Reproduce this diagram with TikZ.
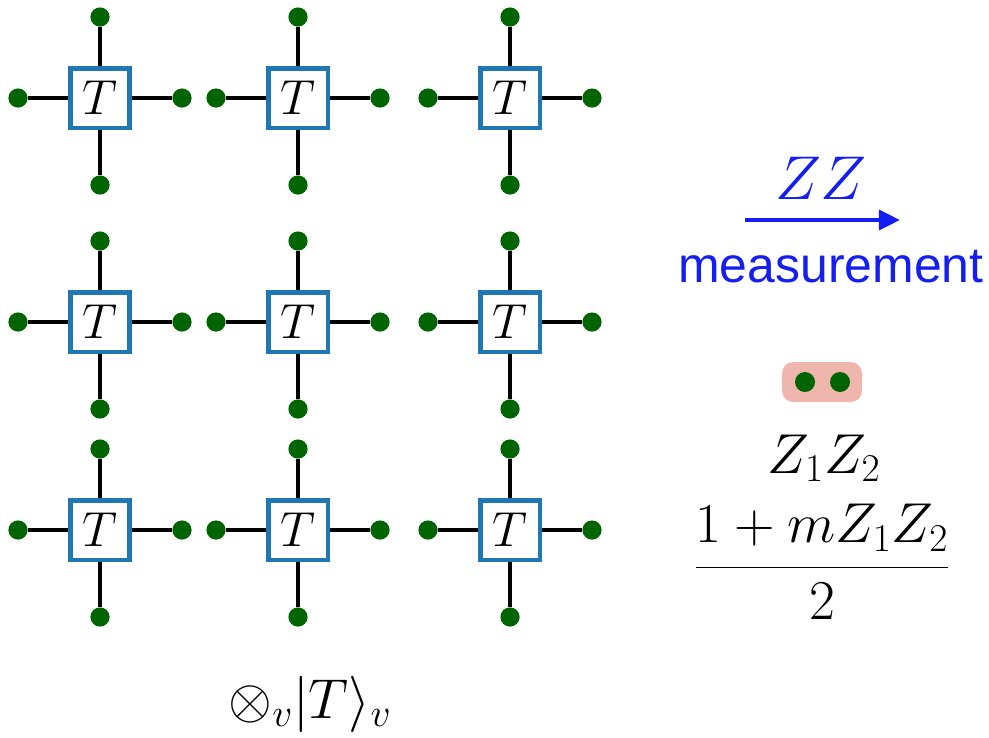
\RequirePackage{fix-cm}
\documentclass[tikz,border=0pt]{standalone}
\usepackage{fontspec}
\setsansfont{Liberation Sans}
\usetikzlibrary{arrows.meta}
\definecolor{boxblue}{RGB}{31,119,180}
\definecolor{dotgreen}{RGB}{0,100,0}
\definecolor{pairpink}{RGB}{238,182,172}
\definecolor{measblue}{RGB}{20,30,240}
\tikzset{
  tbox/.style={draw=boxblue, line width=3pt, fill=white, minimum size=1.48cm, inner sep=0pt,
    font=\fontsize{35}{40}\selectfont},
  leg/.style={circle, fill=dotgreen, minimum size=0.48cm, inner sep=0pt},
  bond/.style={line width=2.8pt, black},
  bigmath/.style={font=\fontsize{40}{48}\selectfont}
}
\begin{document}
\begin{tikzpicture}[x=0.025cm, y=-0.025cm]
  \useasboundingbox (0,0) rectangle (989,738);

  % tensor grid
  \foreach \i/\x in {1/100,2/298,3/510} {
    \foreach \j/\y in {1/98,2/322,3/530} {
      \node[leg] (u\i\j) at (\x,\y-81) {};
      \node[leg] (d\i\j) at (\x,\y+87) {};
      \node[leg] (l\i\j) at (\x-82,\y) {};
      \node[leg] (r\i\j) at (\x+82,\y) {};
      \draw[bond] (u\i\j) -- (d\i\j);
      \draw[bond] (l\i\j) -- (r\i\j);
      \node[tbox] (T\i\j) at (\x,\y) {$T$};
    }
  }

  % product state label
  \node[bigmath] (prod) at (310,704) {$\otimes_v |T\rangle_v$};

  % measurement arrow
  \node[font=\fontsize{44}{50}\selectfont, text=measblue] (zz) at (821,178) {$ZZ$};
  \coordinate (a0) at (745,220);
  \coordinate (a1) at (900,220);
  \draw[measblue, line width=3pt, -{Triangle[length=15pt, width=14pt]}] (a0) -- (a1);
  \node[font=\sffamily\fontsize{35.5}{40}\selectfont, text=measblue] (meas) at (831,267) {measurement};

  % measured pair
  \node[fill=pairpink, rounded corners=8pt, minimum width=2cm, minimum height=1cm] (pair) at (822,382) {};
  \node[leg, minimum size=0.5cm] (p1) at (805,382) {};
  \node[leg, minimum size=0.5cm] (p2) at (840,382) {};
  \node[bigmath] (zz2) at (824,458) {$Z_1Z_2$};
  \node[bigmath] (proj) at (822,562) {$\displaystyle\frac{1+mZ_1Z_2}{2}$};
\end{tikzpicture}
\end{document}
